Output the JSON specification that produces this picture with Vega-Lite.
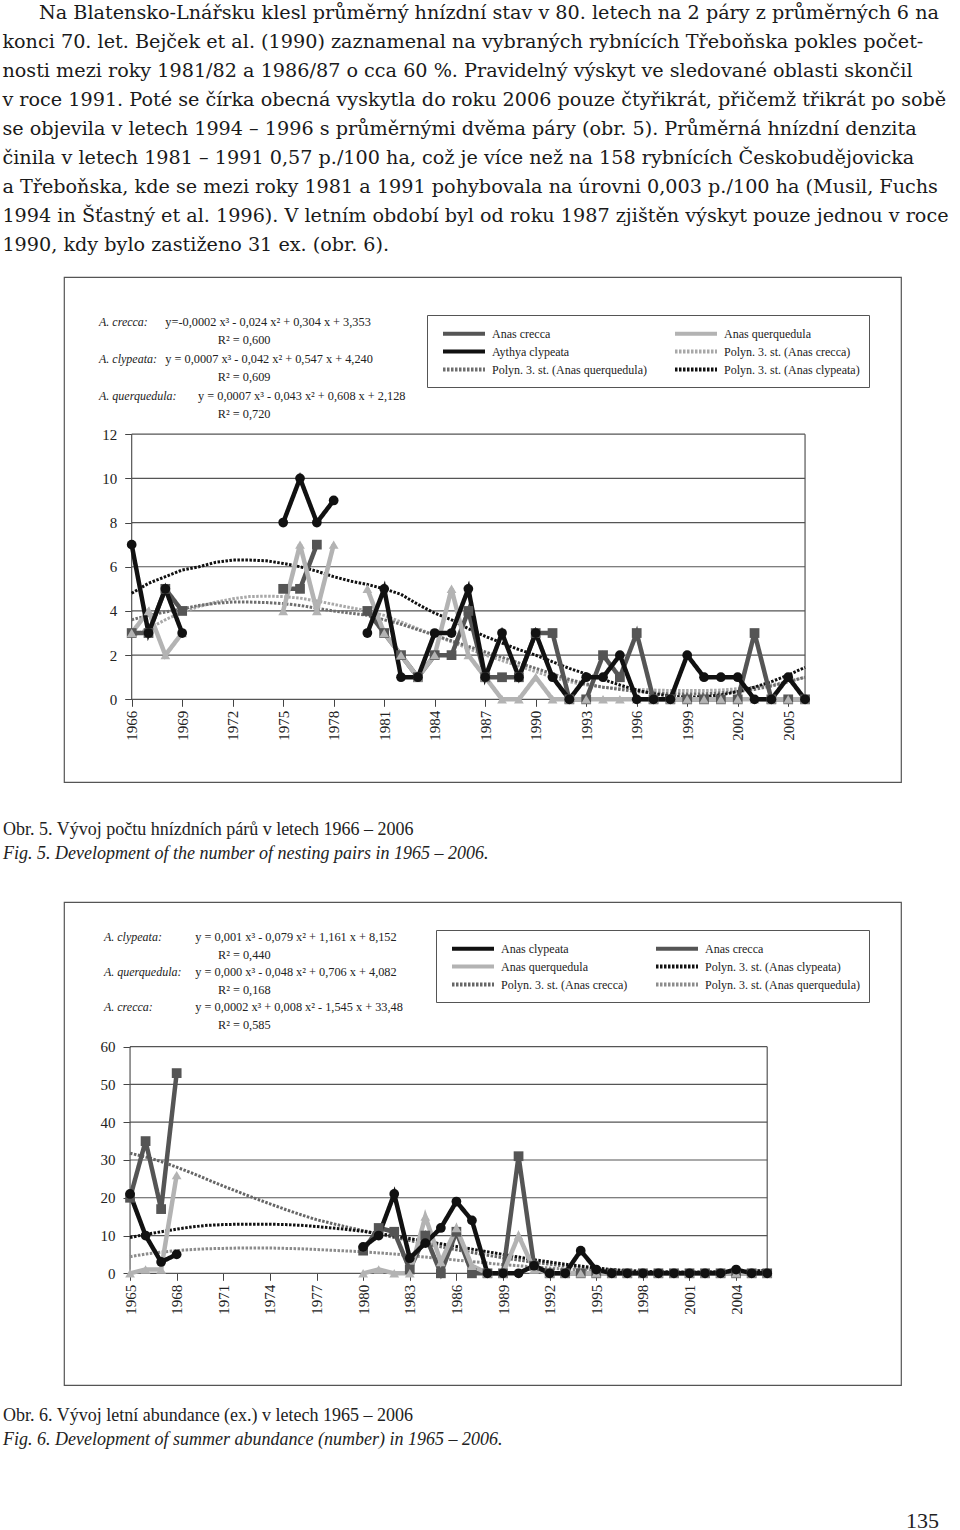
{
  "$schema": "https://vega.github.io/schema/vega-lite/v6.json",
  "background": "white",
  "padding": {"left": 2, "top": 4, "right": 0, "bottom": 0},
  "spacing": 37,
  "title": {
    "text": [
      "\u200b\u00a0\u00a0\u00a0\u00a0\u00a0\u00a0Na Blatensko-Lnářsku klesl průměrný hnízdní stav v 80. letech na 2 páry z průměrných 6 na",
      "konci 70. let. Bejček et al. (1990) zaznamenal na vybraných rybnících Třeboňska pokles počet-",
      "nosti mezi roky 1981/82 a 1986/87 o cca 60 %. Pravidelný výskyt ve sledované oblasti skončil",
      "v roce 1991. Poté se čírka obecná vyskytla do roku 2006 pouze čtyřikrát, přičemž třikrát po sobě",
      "se objevila v letech 1994 – 1996 s průměrnými dvěma páry (obr. 5). Průměrná hnízdní denzita",
      "činila v letech 1981 – 1991 0,57 p./100 ha, což je více než na 158 rybnících Českobudějovicka",
      "a Třeboňska, kde se mezi roky 1981 a 1991 pohybovala na úrovni 0,003 p./100 ha (Musil, Fuchs",
      "1994 in Šťastný et al. 1996). V letním období byl od roku 1987 zjištěn výskyt pouze jednou v roce",
      "1990, kdy bylo zastiženo 31 ex. (obr. 6)."
    ],
    "anchor": "start",
    "frame": "bounds",
    "font": "DejaVu Serif",
    "fontSize": 19.2,
    "fontWeight": "normal",
    "lineHeight": 29,
    "baseline": "top",
    "color": "#1a1a1a",
    "offset": 21
  },
  "config": {
    "view": {"stroke": "#555", "strokeWidth": 1.2},
    "axis": {
      "labelFont": "Liberation Serif",
      "labelFontSize": 15,
      "labelColor": "#222",
      "domain": false,
      "grid": false,
      "ticks": true,
      "tickColor": "#444",
      "tickSize": 7,
      "labelFlush": false,
      "labelOverlap": false
    },
    "legend": {
      "strokeColor": "#555",
      "fillColor": "white",
      "symbolType": "M-2.8,0L2.8,0",
      "symbolSize": 225,
      "symbolOffset": 18.5,
      "symbolStrokeWidth": 4,
      "labelOffset": 18.5,
      "labelFont": "Liberation Serif",
      "labelFontSize": 12,
      "labelColor": "#222",
      "labelLimit": 400,
      "columnPadding": 20,
      "rowPadding": 0,
      "padding": 9
    }
  },
  "resolve": {
    "scale": {"color": "independent", "strokeDash": "independent", "fill": "independent", "shape": "independent", "x": "independent", "y": "independent"},
    "legend": {"color": "independent", "strokeDash": "independent", "fill": "independent", "shape": "independent"}
  },
  "vconcat": [
    {
      "width": 837,
      "height": 505,
      "view": {"stroke": "#555", "strokeWidth": 1.2},
      "title": {
        "text": "Obr. 5. Vývoj počtu hnízdních párů v letech 1966 – 2006",
        "subtitle": "Fig. 5. Development of the number of nesting pairs in 1965 – 2006.",
        "orient": "bottom",
        "anchor": "start",
        "dx": -61,
        "offset": 39,
        "font": "Liberation Serif",
        "fontSize": 18,
        "fontWeight": "normal",
        "color": "#222",
        "subtitleFont": "Liberation Serif",
        "subtitleFontSize": 18,
        "subtitleFontStyle": "italic",
        "subtitleColor": "#222",
        "subtitlePadding": 6
      },
      "data": {
        "values": [
          {"year": 1966, "cr": 3, "cl": 7, "qu": 3, "pcr": 2.85, "pqu": 3.6, "pcl": 4.8},
          {"year": 1967, "cr": 3, "cl": 3, "qu": 4, "pcr": 3.2, "pqu": 3.8, "pcl": 5.25},
          {"year": 1968, "cr": 5, "cl": 5, "qu": 2, "pcr": 3.6, "pqu": 3.95, "pcl": 5.55},
          {"year": 1969, "cr": 4, "cl": 3, "qu": 3, "pcr": 3.95, "pqu": 4.1, "pcl": 5.85},
          {"year": 1970, "cr": null, "cl": null, "qu": null, "pcr": 4.2, "pqu": 4.25, "pcl": 6.0},
          {"year": 1971, "cr": null, "cl": null, "qu": null, "pcr": 4.4, "pqu": 4.35, "pcl": 6.2},
          {"year": 1972, "cr": null, "cl": null, "qu": null, "pcr": 4.55, "pqu": 4.4, "pcl": 6.3},
          {"year": 1973, "cr": null, "cl": null, "qu": null, "pcr": 4.65, "pqu": 4.4, "pcl": 6.3},
          {"year": 1974, "cr": null, "cl": null, "qu": null, "pcr": 4.67, "pqu": 4.38, "pcl": 6.27},
          {"year": 1975, "cr": 5, "cl": 8, "qu": 4, "pcr": 4.65, "pqu": 4.33, "pcl": 6.15},
          {"year": 1976, "cr": 5, "cl": 10, "qu": 7, "pcr": 4.58, "pqu": 4.25, "pcl": 6.0},
          {"year": 1977, "cr": 7, "cl": 8, "qu": 4, "pcr": 4.45, "pqu": 4.12, "pcl": 5.8},
          {"year": 1978, "cr": null, "cl": 9, "qu": 7, "pcr": 4.3, "pqu": 4.0, "pcl": 5.55},
          {"year": 1979, "cr": null, "cl": null, "qu": null, "pcr": 4.15, "pqu": 3.9, "pcl": 5.35},
          {"year": 1980, "cr": 4, "cl": 3, "qu": 5, "pcr": 4.0, "pqu": 3.8, "pcl": 5.2},
          {"year": 1981, "cr": 3, "cl": 5, "qu": 3, "pcr": 3.8, "pqu": 3.6, "pcl": 5.0},
          {"year": 1982, "cr": 2, "cl": 1, "qu": 2, "pcr": 3.5, "pqu": 3.4, "pcl": 4.75},
          {"year": 1983, "cr": 1, "cl": 1, "qu": 1, "pcr": 3.2, "pqu": 3.15, "pcl": 4.3},
          {"year": 1984, "cr": 2, "cl": 3, "qu": 2, "pcr": 2.9, "pqu": 2.9, "pcl": 3.9},
          {"year": 1985, "cr": 2, "cl": 3, "qu": 5, "pcr": 2.6, "pqu": 2.65, "pcl": 3.6},
          {"year": 1986, "cr": 4, "cl": 5, "qu": 2, "pcr": 2.3, "pqu": 2.4, "pcl": 3.2},
          {"year": 1987, "cr": 1, "cl": 1, "qu": 1, "pcr": 2.0, "pqu": 2.15, "pcl": 2.85},
          {"year": 1988, "cr": 1, "cl": 3, "qu": 0, "pcr": 1.75, "pqu": 1.9, "pcl": 2.55},
          {"year": 1989, "cr": 1, "cl": 1, "qu": 0, "pcr": 1.5, "pqu": 1.65, "pcl": 2.25},
          {"year": 1990, "cr": 3, "cl": 3, "qu": 1, "pcr": 1.25, "pqu": 1.4, "pcl": 2.0},
          {"year": 1991, "cr": 3, "cl": 1, "qu": 0, "pcr": 1.0, "pqu": 1.15, "pcl": 1.7},
          {"year": 1992, "cr": 0, "cl": 0, "qu": 0, "pcr": 0.8, "pqu": 0.9, "pcl": 1.4},
          {"year": 1993, "cr": 0, "cl": 1, "qu": 0, "pcr": 0.65, "pqu": 0.7, "pcl": 1.15},
          {"year": 1994, "cr": 2, "cl": 1, "qu": 0, "pcr": 0.55, "pqu": 0.55, "pcl": 0.9},
          {"year": 1995, "cr": 1, "cl": 2, "qu": 0, "pcr": 0.5, "pqu": 0.45, "pcl": 0.65},
          {"year": 1996, "cr": 3, "cl": 0, "qu": 0, "pcr": 0.45, "pqu": 0.35, "pcl": 0.42},
          {"year": 1997, "cr": 0, "cl": 0, "qu": 0, "pcr": 0.42, "pqu": 0.3, "pcl": 0.25},
          {"year": 1998, "cr": 0, "cl": 0, "qu": 0, "pcr": 0.4, "pqu": 0.25, "pcl": 0.15},
          {"year": 1999, "cr": 0, "cl": 2, "qu": 0, "pcr": 0.4, "pqu": 0.25, "pcl": 0.1},
          {"year": 2000, "cr": 0, "cl": 1, "qu": 0, "pcr": 0.4, "pqu": 0.25, "pcl": 0.12},
          {"year": 2001, "cr": 0, "cl": 1, "qu": 0, "pcr": 0.42, "pqu": 0.3, "pcl": 0.2},
          {"year": 2002, "cr": 0, "cl": 1, "qu": 0, "pcr": 0.48, "pqu": 0.35, "pcl": 0.35},
          {"year": 2003, "cr": 3, "cl": 0, "qu": 0, "pcr": 0.55, "pqu": 0.45, "pcl": 0.55},
          {"year": 2004, "cr": 0, "cl": 0, "qu": 0, "pcr": 0.65, "pqu": 0.6, "pcl": 0.8},
          {"year": 2005, "cr": 0, "cl": 1, "qu": 0, "pcr": 0.8, "pqu": 0.8, "pcl": 1.1},
          {"year": 2006, "cr": 0, "cl": 0, "qu": 0, "pcr": 1.0, "pqu": 1.0, "pcl": 1.45}
        ]
      },
      "resolve": {"scale": {"y": "independent"}},
      "layer": [
        {
          "layer": [
            {
              "data": {"values": [{"g": 0}, {"g": 2}, {"g": 4}, {"g": 6}, {"g": 8}, {"g": 10}, {"g": 12}]},
              "mark": {"type": "rule", "color": "#555", "strokeWidth": 1.2},
              "encoding": {
                "y": {"field": "g", "type": "quantitative", "scale": {"domain": [-3.74, 19.11], "nice": false, "zero": false},
                      "axis": {"values": [0, 2, 4, 6, 8, 10, 12], "offset": -67.7, "title": null, "labelPadding": 8}},
                "x": {"datum": 1966, "type": "quantitative", "scale": {"domain": [1961.98, 2011.7], "nice": false, "zero": false},
                      "axis": {"values": [1966, 1969, 1972, 1975, 1978, 1981, 1984, 1987, 1990, 1993, 1996, 1999, 2002, 2005], "format": "d", "labelAngle": -90, "offset": -82.7, "title": null, "labelPadding": 4}},
                "x2": {"datum": 2006}
              }
            },
            {
              "data": {"values": [{"v": 1966}, {"v": 2006}]},
              "mark": {"type": "rule", "color": "#555", "strokeWidth": 1.2},
              "encoding": {
                "x": {"field": "v", "type": "quantitative", "axis": {"title": null}},
                "y": {"datum": 0, "type": "quantitative", "axis": {"title": null}},
                "y2": {"datum": 12}
              }
            },
            {
              "transform": [{"fold": ["pcr", "pqu", "pcl"], "as": ["s", "v"]}],
              "mark": {"type": "line", "strokeWidth": 3},
              "encoding": {
                "x": {"field": "year", "type": "quantitative", "axis": {"title": null}},
                "y": {"field": "v", "type": "quantitative", "axis": {"title": null}},
                "color": {"field": "s", "type": "nominal",
                  "scale": {"domain": ["cr", "cl", "pqu", "qu", "pcr", "pcl"], "range": ["#555555", "#111111", "#6e6e6e", "#b3b3b3", "#a8a8a8", "#111111"]},
                  "legend": {"orient": "none", "legendX": 363, "legendY": 38, "columns": 2, "title": null,
                    "labelExpr": "{'cr':'Anas crecca','qu':'Anas querquedula','cl':'Aythya clypeata','pcr':'Polyn. 3. st. (Anas crecca)','pqu':'Polyn. 3. st. (Anas querquedula)','pcl':'Polyn. 3. st. (Anas clypeata)'}[datum.value]",
                    "encode": {"labels": {"fontStyle": {"value": {"expr": "length(datum.value) < 3 ? 'italic' : 'normal'"}}}}}},
                "strokeDash": {"field": "s", "type": "nominal",
                  "scale": {"domain": ["cr", "cl", "pqu", "qu", "pcr", "pcl"], "range": [[1, 0], [1, 0], [2.5, 1.5], [1, 0], [2.5, 1.5], [2.5, 1.5]]},
                  "legend": {"orient": "none", "legendX": 363, "legendY": 38, "columns": 2, "title": null,
                    "labelExpr": "{'cr':'Anas crecca','qu':'Anas querquedula','cl':'Aythya clypeata','pcr':'Polyn. 3. st. (Anas crecca)','pqu':'Polyn. 3. st. (Anas querquedula)','pcl':'Polyn. 3. st. (Anas clypeata)'}[datum.value]",
                    "encode": {"labels": {"fontStyle": {"value": {"expr": "length(datum.value) < 3 ? 'italic' : 'normal'"}}}}}}
              }
            },
            {
              "transform": [{"fold": ["cr", "qu", "cl"], "as": ["s", "v"]}],
              "mark": {"type": "line", "strokeWidth": 4.5},
              "encoding": {
                "x": {"field": "year", "type": "quantitative", "axis": {"title": null}},
                "y": {"field": "v", "type": "quantitative", "axis": {"title": null}},
                "color": {"field": "s", "type": "nominal",
                  "scale": {"domain": ["cr", "cl", "pqu", "qu", "pcr", "pcl"], "range": ["#555555", "#111111", "#6e6e6e", "#b3b3b3", "#a8a8a8", "#111111"]},
                  "legend": {"orient": "none", "legendX": 363, "legendY": 38, "columns": 2, "title": null,
                    "labelExpr": "{'cr':'Anas crecca','qu':'Anas querquedula','cl':'Aythya clypeata','pcr':'Polyn. 3. st. (Anas crecca)','pqu':'Polyn. 3. st. (Anas querquedula)','pcl':'Polyn. 3. st. (Anas clypeata)'}[datum.value]",
                    "encode": {"labels": {"fontStyle": {"value": {"expr": "length(datum.value) < 3 ? 'italic' : 'normal'"}}}}}},
                "strokeDash": {"field": "s", "type": "nominal",
                  "scale": {"domain": ["cr", "cl", "pqu", "qu", "pcr", "pcl"], "range": [[1, 0], [1, 0], [2.5, 1.5], [1, 0], [2.5, 1.5], [2.5, 1.5]]},
                  "legend": {"orient": "none", "legendX": 363, "legendY": 38, "columns": 2, "title": null,
                    "labelExpr": "{'cr':'Anas crecca','qu':'Anas querquedula','cl':'Aythya clypeata','pcr':'Polyn. 3. st. (Anas crecca)','pqu':'Polyn. 3. st. (Anas querquedula)','pcl':'Polyn. 3. st. (Anas clypeata)'}[datum.value]",
                    "encode": {"labels": {"fontStyle": {"value": {"expr": "length(datum.value) < 3 ? 'italic' : 'normal'"}}}}}}
              }
            },
            {
              "transform": [{"fold": ["cr", "qu", "cl"], "as": ["s", "v"]}],
              "mark": {"type": "point", "filled": true, "opacity": 1, "size": 95},
              "encoding": {
                "x": {"field": "year", "type": "quantitative", "axis": {"title": null}},
                "y": {"field": "v", "type": "quantitative", "axis": {"title": null}},
                "fill": {"field": "s", "type": "nominal", "scale": {"domain": ["cr", "qu", "cl"], "range": ["#555555", "#b3b3b3", "#111111"]}, "legend": null},
                "shape": {"field": "s", "type": "nominal", "scale": {"domain": ["cr", "qu", "cl"], "range": ["square", "triangle-up", "circle"]}, "legend": null}
              }
            }
          ]
        },
        {
          "data": {"values": [{"line": 1, "t": "A. crecca:"}, {"line": 3, "t": "A. clypeata:"}, {"line": 5, "t": "A. querquedula:"}]},
          "mark": {"type": "text", "align": "left", "baseline": "middle", "font": "Liberation Serif", "fontSize": 12, "fontStyle": "italic", "color": "#222"},
          "encoding": {
            "x": {"datum": 1964.06, "type": "quantitative", "scale": {"domain": [1961.98, 2011.7], "nice": false, "zero": false}, "axis": {"title": null}},
            "y": {"field": "line", "type": "quantitative", "scale": {"domain": [-1.446, 26.0], "reverse": true, "nice": false, "zero": false}, "axis": null},
            "text": {"field": "t"}
          }
        },
        {
          "data": {"values": [
            {"line": 1, "t": "y=-0,0002 x³ - 0,024 x² + 0,304 x + 3,353"},
            {"line": 3, "t": "y = 0,0007 x³ - 0,042 x² + 0,547 x + 4,240"}
          ]},
          "mark": {"type": "text", "align": "left", "baseline": "middle", "font": "Liberation Serif", "fontSize": 12.3, "color": "#222"},
          "encoding": {
            "x": {"datum": 1968.0, "type": "quantitative", "scale": {"domain": [1961.98, 2011.7], "nice": false, "zero": false}, "axis": {"title": null}},
            "y": {"field": "line", "type": "quantitative", "scale": {"domain": [-1.446, 26.0], "reverse": true, "nice": false, "zero": false}, "axis": null},
            "text": {"field": "t"}
          }
        },
        {
          "data": {"values": [
            {"line": 5, "t": "y = 0,0007 x³ - 0,043 x² + 0,608 x + 2,128"}
          ]},
          "mark": {"type": "text", "align": "left", "baseline": "middle", "font": "Liberation Serif", "fontSize": 12.3, "color": "#222"},
          "encoding": {
            "x": {"datum": 1969.94, "type": "quantitative", "scale": {"domain": [1961.98, 2011.7], "nice": false, "zero": false}, "axis": {"title": null}},
            "y": {"field": "line", "type": "quantitative", "scale": {"domain": [-1.446, 26.0], "reverse": true, "nice": false, "zero": false}, "axis": null},
            "text": {"field": "t"}
          }
        },
        {
          "data": {"values": [
            {"line": 2, "t": "R² = 0,600"},
            {"line": 4, "t": "R² = 0,609"},
            {"line": 6, "t": "R² = 0,720"}
          ]},
          "mark": {"type": "text", "align": "left", "baseline": "middle", "font": "Liberation Serif", "fontSize": 12.3, "color": "#222"},
          "encoding": {
            "x": {"datum": 1971.12, "type": "quantitative", "scale": {"domain": [1961.98, 2011.7], "nice": false, "zero": false}, "axis": {"title": null}},
            "y": {"field": "line", "type": "quantitative", "scale": {"domain": [-1.446, 26.0], "reverse": true, "nice": false, "zero": false}, "axis": null},
            "text": {"field": "t"}
          }
        }
      ]
    },
    {
      "width": 837,
      "height": 483,
      "view": {"stroke": "#555", "strokeWidth": 1.2},
      "title": {
        "text": "Obr. 6. Vývoj letní abundance (ex.) v letech 1965 – 2006",
        "subtitle": "Fig. 6. Development of summer abundance (number) in 1965 – 2006.",
        "orient": "bottom",
        "anchor": "start",
        "dx": -61,
        "offset": 22,
        "font": "Liberation Serif",
        "fontSize": 18,
        "fontWeight": "normal",
        "color": "#222",
        "subtitleFont": "Liberation Serif",
        "subtitleFontSize": 18,
        "subtitleFontStyle": "italic",
        "subtitleColor": "#222",
        "subtitlePadding": 6
      },
      "data": {
        "values": [
          {"year": 1965, "cr": 20, "cl": 21, "qu": 0, "pcr": 31.8, "pqu": 4.4, "pcl": 9.5},
          {"year": 1966, "cr": 35, "cl": 10, "qu": 1, "pcr": 30.8, "pqu": 5.1, "pcl": 10.3},
          {"year": 1967, "cr": 17, "cl": 3, "qu": 1, "pcr": 29.6, "pqu": 5.6, "pcl": 11.0},
          {"year": 1968, "cr": 53, "cl": 5, "qu": 26, "pcr": 28.1, "pqu": 6.0, "pcl": 11.7},
          {"year": 1969, "cr": null, "cl": null, "qu": null, "pcr": 26.5, "pqu": 6.3, "pcl": 12.3},
          {"year": 1970, "cr": null, "cl": null, "qu": null, "pcr": 24.8, "pqu": 6.5, "pcl": 12.7},
          {"year": 1971, "cr": null, "cl": null, "qu": null, "pcr": 23.1, "pqu": 6.6, "pcl": 12.9},
          {"year": 1972, "cr": null, "cl": null, "qu": null, "pcr": 21.5, "pqu": 6.7, "pcl": 13.0},
          {"year": 1973, "cr": null, "cl": null, "qu": null, "pcr": 19.9, "pqu": 6.7, "pcl": 13.0},
          {"year": 1974, "cr": null, "cl": null, "qu": null, "pcr": 18.4, "pqu": 6.7, "pcl": 13.0},
          {"year": 1975, "cr": null, "cl": null, "qu": null, "pcr": 16.9, "pqu": 6.6, "pcl": 12.9},
          {"year": 1976, "cr": null, "cl": null, "qu": null, "pcr": 15.5, "pqu": 6.5, "pcl": 12.7},
          {"year": 1977, "cr": null, "cl": null, "qu": null, "pcr": 14.2, "pqu": 6.3, "pcl": 12.4},
          {"year": 1978, "cr": null, "cl": null, "qu": null, "pcr": 13.2, "pqu": 6.1, "pcl": 12.0},
          {"year": 1979, "cr": null, "cl": null, "qu": null, "pcr": 12.2, "pqu": 5.9, "pcl": 11.6},
          {"year": 1980, "cr": 6, "cl": 7, "qu": 0, "pcr": 11.3, "pqu": 5.7, "pcl": 11.1},
          {"year": 1981, "cr": 12, "cl": 10, "qu": 1, "pcr": 10.4, "pqu": 5.4, "pcl": 10.5},
          {"year": 1982, "cr": 11, "cl": 21, "qu": 0, "pcr": 9.5, "pqu": 5.1, "pcl": 9.9},
          {"year": 1983, "cr": 1, "cl": 4, "qu": 0, "pcr": 8.7, "pqu": 4.7, "pcl": 9.2},
          {"year": 1984, "cr": 10, "cl": 8, "qu": 15, "pcr": 7.8, "pqu": 4.3, "pcl": 8.5},
          {"year": 1985, "cr": 0, "cl": 12, "qu": 3, "pcr": 7.0, "pqu": 3.9, "pcl": 7.8},
          {"year": 1986, "cr": 11, "cl": 19, "qu": 12, "pcr": 6.2, "pqu": 3.5, "pcl": 7.1},
          {"year": 1987, "cr": 0, "cl": 14, "qu": 2, "pcr": 5.5, "pqu": 3.1, "pcl": 6.4},
          {"year": 1988, "cr": 0, "cl": 0, "qu": 0, "pcr": 4.8, "pqu": 2.7, "pcl": 5.7},
          {"year": 1989, "cr": 0, "cl": 0, "qu": 0, "pcr": 4.1, "pqu": 2.3, "pcl": 5.0},
          {"year": 1990, "cr": 31, "cl": 0, "qu": 10, "pcr": 3.5, "pqu": 2.0, "pcl": 4.3},
          {"year": 1991, "cr": 2, "cl": 2, "qu": 1, "pcr": 2.9, "pqu": 1.7, "pcl": 3.6},
          {"year": 1992, "cr": 0, "cl": 0, "qu": 0, "pcr": 2.4, "pqu": 1.4, "pcl": 3.0},
          {"year": 1993, "cr": 0, "cl": 0, "qu": 0, "pcr": 1.9, "pqu": 1.1, "pcl": 2.4},
          {"year": 1994, "cr": 0, "cl": 6, "qu": 0, "pcr": 1.5, "pqu": 0.9, "pcl": 1.9},
          {"year": 1995, "cr": 0, "cl": 1, "qu": 0, "pcr": 1.2, "pqu": 0.7, "pcl": 1.4},
          {"year": 1996, "cr": 0, "cl": 0, "qu": 0, "pcr": 0.9, "pqu": 0.6, "pcl": 1.0},
          {"year": 1997, "cr": 0, "cl": 0, "qu": 0, "pcr": 0.7, "pqu": 0.5, "pcl": 0.7},
          {"year": 1998, "cr": 0, "cl": 0, "qu": 0, "pcr": 0.5, "pqu": 0.4, "pcl": 0.5},
          {"year": 1999, "cr": 0, "cl": 0, "qu": 0, "pcr": 0.4, "pqu": 0.4, "pcl": 0.4},
          {"year": 2000, "cr": 0, "cl": 0, "qu": 0, "pcr": 0.3, "pqu": 0.4, "pcl": 0.3},
          {"year": 2001, "cr": 0, "cl": 0, "qu": 0, "pcr": 0.3, "pqu": 0.4, "pcl": 0.3},
          {"year": 2002, "cr": 0, "cl": 0, "qu": 0, "pcr": 0.3, "pqu": 0.4, "pcl": 0.3},
          {"year": 2003, "cr": 0, "cl": 0, "qu": 0, "pcr": 0.3, "pqu": 0.5, "pcl": 0.4},
          {"year": 2004, "cr": 0, "cl": 1, "qu": 0, "pcr": 0.3, "pqu": 0.5, "pcl": 0.5},
          {"year": 2005, "cr": 0, "cl": 0, "qu": 0, "pcr": 0.4, "pqu": 0.6, "pcl": 0.6},
          {"year": 2006, "cr": 0, "cl": 0, "qu": 0, "pcr": 0.5, "pqu": 0.7, "pcl": 0.8}
        ]
      },
      "resolve": {"scale": {"y": "independent"}},
      "layer": [
        {
          "layer": [
            {
              "data": {"values": [{"g": 0}, {"g": 10}, {"g": 20}, {"g": 30}, {"g": 40}, {"g": 50}, {"g": 60}]},
              "mark": {"type": "rule", "color": "#555", "strokeWidth": 1.2},
              "encoding": {
                "y": {"field": "g", "type": "quantitative", "scale": {"domain": [-29.57, 98.3], "nice": false, "zero": false},
                      "axis": {"values": [0, 10, 20, 30, 40, 50, 60], "offset": -66, "title": null, "labelPadding": 8}},
                "x": {"datum": 1965, "type": "quantitative", "scale": {"domain": [1960.75, 2014.61], "nice": false, "zero": false},
                      "axis": {"values": [1965, 1968, 1971, 1974, 1977, 1980, 1983, 1986, 1989, 1992, 1995, 1998, 2001, 2004], "format": "d", "labelAngle": -90, "offset": -111.7, "title": null, "labelPadding": 4}},
                "x2": {"datum": 2006}
              }
            },
            {
              "data": {"values": [{"v": 1965}, {"v": 2006}]},
              "mark": {"type": "rule", "color": "#555", "strokeWidth": 1.2},
              "encoding": {
                "x": {"field": "v", "type": "quantitative", "axis": {"title": null}},
                "y": {"datum": 0, "type": "quantitative", "axis": {"title": null}},
                "y2": {"datum": 60}
              }
            },
            {
              "transform": [{"fold": ["pcr", "pqu", "pcl"], "as": ["s", "v"]}],
              "mark": {"type": "line", "strokeWidth": 3},
              "encoding": {
                "x": {"field": "year", "type": "quantitative", "axis": {"title": null}},
                "y": {"field": "v", "type": "quantitative", "axis": {"title": null}},
                "color": {"field": "s", "type": "nominal",
                  "scale": {"domain": ["cl", "qu", "pcr", "cr", "pcl", "pqu"], "range": ["#111111", "#b3b3b3", "#666666", "#555555", "#111111", "#8c8c8c"]},
                  "legend": {"orient": "none", "legendX": 372, "legendY": 28, "columns": 2, "title": null,
                    "labelExpr": "{'cl':'Anas clypeata','cr':'Anas crecca','qu':'Anas querquedula','pcl':'Polyn. 3. st. (Anas clypeata)','pcr':'Polyn. 3. st. (Anas crecca)','pqu':'Polyn. 3. st. (Anas querquedula)'}[datum.value]",
                    "encode": {"labels": {"fontStyle": {"value": {"expr": "length(datum.value) < 3 ? 'italic' : 'normal'"}}}}}},
                "strokeDash": {"field": "s", "type": "nominal",
                  "scale": {"domain": ["cl", "qu", "pcr", "cr", "pcl", "pqu"], "range": [[1, 0], [1, 0], [2.5, 1.5], [1, 0], [2.5, 1.5], [2.5, 1.5]]},
                  "legend": {"orient": "none", "legendX": 372, "legendY": 28, "columns": 2, "title": null,
                    "labelExpr": "{'cl':'Anas clypeata','cr':'Anas crecca','qu':'Anas querquedula','pcl':'Polyn. 3. st. (Anas clypeata)','pcr':'Polyn. 3. st. (Anas crecca)','pqu':'Polyn. 3. st. (Anas querquedula)'}[datum.value]",
                    "encode": {"labels": {"fontStyle": {"value": {"expr": "length(datum.value) < 3 ? 'italic' : 'normal'"}}}}}}
              }
            },
            {
              "transform": [{"fold": ["cr", "qu", "cl"], "as": ["s", "v"]}],
              "mark": {"type": "line", "strokeWidth": 4.5},
              "encoding": {
                "x": {"field": "year", "type": "quantitative", "axis": {"title": null}},
                "y": {"field": "v", "type": "quantitative", "axis": {"title": null}},
                "color": {"field": "s", "type": "nominal",
                  "scale": {"domain": ["cl", "qu", "pcr", "cr", "pcl", "pqu"], "range": ["#111111", "#b3b3b3", "#666666", "#555555", "#111111", "#8c8c8c"]},
                  "legend": {"orient": "none", "legendX": 372, "legendY": 28, "columns": 2, "title": null,
                    "labelExpr": "{'cl':'Anas clypeata','cr':'Anas crecca','qu':'Anas querquedula','pcl':'Polyn. 3. st. (Anas clypeata)','pcr':'Polyn. 3. st. (Anas crecca)','pqu':'Polyn. 3. st. (Anas querquedula)'}[datum.value]",
                    "encode": {"labels": {"fontStyle": {"value": {"expr": "length(datum.value) < 3 ? 'italic' : 'normal'"}}}}}},
                "strokeDash": {"field": "s", "type": "nominal",
                  "scale": {"domain": ["cl", "qu", "pcr", "cr", "pcl", "pqu"], "range": [[1, 0], [1, 0], [2.5, 1.5], [1, 0], [2.5, 1.5], [2.5, 1.5]]},
                  "legend": {"orient": "none", "legendX": 372, "legendY": 28, "columns": 2, "title": null,
                    "labelExpr": "{'cl':'Anas clypeata','cr':'Anas crecca','qu':'Anas querquedula','pcl':'Polyn. 3. st. (Anas clypeata)','pcr':'Polyn. 3. st. (Anas crecca)','pqu':'Polyn. 3. st. (Anas querquedula)'}[datum.value]",
                    "encode": {"labels": {"fontStyle": {"value": {"expr": "length(datum.value) < 3 ? 'italic' : 'normal'"}}}}}}
              }
            },
            {
              "transform": [{"fold": ["cr", "qu", "cl"], "as": ["s", "v"]}],
              "mark": {"type": "point", "filled": true, "opacity": 1, "size": 95},
              "encoding": {
                "x": {"field": "year", "type": "quantitative", "axis": {"title": null}},
                "y": {"field": "v", "type": "quantitative", "axis": {"title": null}},
                "fill": {"field": "s", "type": "nominal", "scale": {"domain": ["cr", "qu", "cl"], "range": ["#555555", "#b3b3b3", "#111111"]}, "legend": null},
                "shape": {"field": "s", "type": "nominal", "scale": {"domain": ["cr", "qu", "cl"], "range": ["square", "triangle-up", "circle"]}, "legend": null}
              }
            }
          ]
        },
        {
          "data": {"values": [{"line": 1, "t": "A. clypeata:"}, {"line": 3, "t": "A. querquedula:"}, {"line": 5, "t": "A. crecca:"}]},
          "mark": {"type": "text", "align": "left", "baseline": "middle", "font": "Liberation Serif", "fontSize": 12, "fontStyle": "italic", "color": "#222"},
          "encoding": {
            "x": {"datum": 1963.32, "type": "quantitative", "scale": {"domain": [1960.75, 2014.61], "nice": false, "zero": false}, "axis": {"title": null}},
            "y": {"field": "line", "type": "quantitative", "scale": {"domain": [-0.989, 26.45], "reverse": true, "nice": false, "zero": false}, "axis": null},
            "text": {"field": "t"}
          }
        },
        {
          "data": {"values": [
            {"line": 1, "t": "y = 0,001 x³ - 0,079 x² + 1,161 x + 8,152"},
            {"line": 3, "t": "y = 0,000 x³ - 0,048 x² + 0,706 x + 4,082"},
            {"line": 5, "t": "y = 0,0002 x³ + 0,008 x² - 1,545 x + 33,48"}
          ]},
          "mark": {"type": "text", "align": "left", "baseline": "middle", "font": "Liberation Serif", "fontSize": 12.3, "color": "#222"},
          "encoding": {
            "x": {"datum": 1969.2, "type": "quantitative", "scale": {"domain": [1960.75, 2014.61], "nice": false, "zero": false}, "axis": {"title": null}},
            "y": {"field": "line", "type": "quantitative", "scale": {"domain": [-0.989, 26.45], "reverse": true, "nice": false, "zero": false}, "axis": null},
            "text": {"field": "t"}
          }
        },
        {
          "data": {"values": [
            {"line": 2, "t": "R² = 0,440"},
            {"line": 4, "t": "R² = 0,168"},
            {"line": 6, "t": "R² = 0,585"}
          ]},
          "mark": {"type": "text", "align": "left", "baseline": "middle", "font": "Liberation Serif", "fontSize": 12.3, "color": "#222"},
          "encoding": {
            "x": {"datum": 1970.66, "type": "quantitative", "scale": {"domain": [1960.75, 2014.61], "nice": false, "zero": false}, "axis": {"title": null}},
            "y": {"field": "line", "type": "quantitative", "scale": {"domain": [-0.989, 26.45], "reverse": true, "nice": false, "zero": false}, "axis": null},
            "text": {"field": "t"}
          }
        }
      ]
    },
    {
      "width": 875,
      "height": 68,
      "view": {"stroke": null},
      "data": {"values": [{"p": "135", "pos": 1}]},
      "mark": {"type": "text", "align": "right", "baseline": "middle", "font": "Liberation Serif", "fontSize": 22, "color": "#222"},
      "encoding": {
        "x": {"field": "pos", "type": "quantitative", "scale": {"domain": [0, 1], "nice": false, "zero": false}, "axis": null},
        "text": {"field": "p"}
      }
    }
  ]
}
